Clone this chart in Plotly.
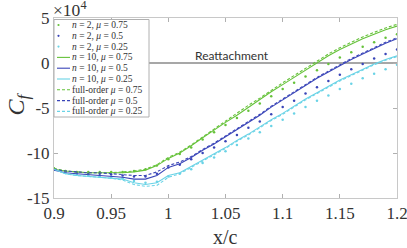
import plotly.graph_objects as go

# ---------------- data (Cf in units of 1e-4) ----------------
x_vals = [0.90, 0.91, 0.92, 0.93, 0.94, 0.95, 0.96, 0.97, 0.98, 0.99, 1.00,
          1.01, 1.02, 1.03, 1.04, 1.05, 1.06, 1.07, 1.08, 1.09, 1.10,
          1.11, 1.12, 1.13, 1.14, 1.15, 1.16, 1.17, 1.18, 1.19, 1.20]

n2_mu075 = [-11.7, -12.0, -12.1, -12.1, -12.1, -12.1, -12.1, -12.0, -11.8, -11.4, -10.7,
            -10.1, -9.4, -8.5, -7.7, -6.9, -6.1, -5.3, -4.5, -3.7, -2.9,
            -2.2, -1.5, -0.8, -0.1, 0.6, 1.2, 1.8, 2.3, 2.8, 3.2]
n2_mu05 = [-11.8, -12.1, -12.2, -12.3, -12.3, -12.4, -12.5, -12.6, -12.6, -12.3, -11.6,
           -11.3, -10.7, -10.0, -9.4, -8.7, -8.0, -7.2, -6.5, -5.7, -4.9,
           -4.2, -3.4, -2.7, -2.0, -1.3, -0.7, -0.1, 0.5, 1.0, 1.5]
n2_mu025 = [-11.8, -12.2, -12.4, -12.5, -12.6, -12.7, -12.8, -13.1, -13.3, -13.2, -12.6,
            -12.3, -11.8, -11.1, -10.5, -9.8, -9.1, -8.4, -7.7, -7.0, -6.3,
            -5.6, -4.9, -4.2, -3.6, -2.9, -2.3, -1.7, -1.2, -0.7, -0.2]

n10_mu075 = [-11.8, -12.0, -12.1, -12.2, -12.2, -12.2, -12.2, -12.1, -11.9, -11.4, -10.6,
             -10.0, -9.2, -8.3, -7.4, -6.6, -5.8, -4.9, -4.1, -3.2, -2.4,
             -1.6, -0.8, 0.0, 0.8, 1.5, 2.1, 2.7, 3.2, 3.7, 4.1]
n10_mu05 = [-11.9, -12.2, -12.3, -12.4, -12.5, -12.6, -12.7, -12.9, -12.9, -12.5, -11.6,
            -11.2, -10.5, -9.7, -9.0, -8.2, -7.4, -6.6, -5.8, -4.9, -4.1,
            -3.3, -2.5, -1.7, -1.0, -0.3, 0.4, 1.0, 1.6, 2.2, 2.7]
n10_mu025 = [-11.8, -12.3, -12.5, -12.6, -12.7, -12.8, -12.9, -13.3, -13.5, -13.3, -12.5,
             -12.2, -11.5, -10.8, -10.1, -9.4, -8.6, -7.9, -7.1, -6.3, -5.6,
             -4.8, -4.0, -3.3, -2.6, -1.9, -1.3, -0.7, -0.1, 0.4, 0.8]

full_mu075 = [-11.7, -12.0, -12.1, -12.2, -12.2, -12.2, -12.1, -12.0, -11.8, -11.3, -10.5,
              -9.9, -9.1, -8.2, -7.3, -6.4, -5.6, -4.7, -3.9, -3.0, -2.2,
              -1.4, -0.6, 0.2, 1.0, 1.7, 2.3, 2.9, 3.4, 3.9, 4.3]
full_mu05 = [-11.8, -12.0, -12.1, -12.2, -12.2, -12.3, -12.4, -12.5, -12.5, -12.1, -11.4,
             -11.0, -10.4, -9.6, -8.9, -8.1, -7.3, -6.5, -5.7, -4.8, -4.0,
             -3.2, -2.4, -1.6, -0.9, -0.2, 0.5, 1.1, 1.7, 2.3, 2.8]
full_mu025 = [-11.8, -12.3, -12.5, -12.6, -12.7, -12.8, -13.0, -13.5, -13.7, -13.6, -12.7,
              -12.3, -11.6, -10.9, -10.2, -9.5, -8.7, -8.0, -7.2, -6.4, -5.7,
              -4.9, -4.1, -3.4, -2.7, -2.0, -1.4, -0.8, -0.2, 0.3, 0.7]

x_ticks = [0.9, 0.95, 1.0, 1.05, 1.1, 1.15, 1.2]
x_ticklabels = ["0.9", "0.95", "1", "1.05", "1.1", "1.15", "1.2"]
y_ticks = [5, 0, -5, -10, -15]
y_ticklabels = ["5", "0", "-5", "-10", "-15"]

legend_labels = [
    "<i>n</i> = 2, <i>μ</i> = 0.75",
    "<i>n</i> = 2, <i>μ</i> = 0.5",
    "<i>n</i> = 2, <i>μ</i> = 0.25",
    "<i>n</i> = 10, <i>μ</i> = 0.75",
    "<i>n</i> = 10, <i>μ</i> = 0.5",
    "<i>n</i> = 10, <i>μ</i> = 0.25",
    "full-order <i>μ</i> = 0.75",
    "full-order <i>μ</i> = 0.5",
    "full-order <i>μ</i> = 0.25",
]

GREEN = "#66c23a"
BLUE = "#3a45b8"
CYAN = "#6ad3e6"
colors = [GREEN, BLUE, CYAN]
kinds = ["dot", "solid", "dash"]

SERIF = "Liberation Serif"
TXT = "#333333"

fig = go.Figure()

series = [
    (n2_mu075, n2_mu05, n2_mu025),
    (n10_mu075, n10_mu05, n10_mu025),
    (full_mu075, full_mu05, full_mu025),
]

# zero (reattachment) line
fig.add_hline(y=0, line=dict(color="#8a8a8a", width=1.3), layer="below")

for kind, group in zip(kinds, series):
    for col, ys in zip(colors, group):
        if kind == "dot":
            fig.add_trace(go.Scatter(x=x_vals, y=ys, mode="markers",
                                     marker=dict(color=col, size=2.5),
                                     showlegend=False))
        else:
            fig.add_trace(go.Scatter(x=x_vals, y=ys, mode="lines",
                                     line=dict(color=col, width=1.1,
                                               dash="solid" if kind == "solid" else "3px,2px"),
                                     showlegend=False))

fig.add_annotation(x=1.022, y=0, xref="x", yref="y", text="Reattachment",
                   showarrow=False, xanchor="left", yanchor="bottom", yshift=-2,
                   font=dict(family="Lato", size=12, color=TXT))

# compact MATLAB-style legend
W, H = 343.0, 180.0
fig.add_shape(type="rect", xref="paper", yref="paper",
              x0=0.0, x1=95 / W, y0=(198 - 117) / H, y1=(198 - 19.5) / H,
              line=dict(color="#b0b0b0", width=1), fillcolor="white", layer="above")
for i, lab in enumerate(legend_labels):
    yc = (198 - (25 + 10.8 * i)) / H
    col = colors[i % 3]
    kind = kinds[i // 3]
    if kind == "dot":
        fig.add_shape(type="circle", xref="paper", yref="paper",
                      x0=(4.5 - 1.1) / W, x1=(4.5 + 1.1) / W,
                      y0=yc - 1.1 / H, y1=yc + 1.1 / H,
                      line=dict(width=0), fillcolor=col, layer="above")
    else:
        fig.add_shape(type="line", xref="paper", yref="paper",
                      x0=3 / W, x1=16 / W, y0=yc, y1=yc,
                      line=dict(color=col, width=1.1,
                                dash="solid" if kind == "solid" else "3px,2px"),
                      layer="above")
    fig.add_annotation(x=16 / W, y=yc, xref="paper", yref="paper", text=lab,
                       showarrow=False, xanchor="left", yanchor="middle",
                       font=dict(family=SERIF, size=9.5, color=TXT))

fig.add_annotation(x=0, y=1, xref="paper", yref="paper", text="×10<sup>4</sup>",
                   showarrow=False, xanchor="left", yanchor="bottom", xshift=-3, yshift=-4,
                   font=dict(family=SERIF, size=17.5, color=TXT))

# axis titles
fig.add_annotation(x=0.5, y=0, xref="paper", yref="paper", text="x/c",
                   showarrow=False, xanchor="center", yanchor="top", yshift=-26,
                   font=dict(family=SERIF, size=20, color=TXT))
fig.add_annotation(x=0, y=0.52, xref="paper", yref="paper", text="<i>C<sub>f</sub></i>",
                   showarrow=False, xanchor="center", yanchor="middle", xshift=-36,
                   textangle=-90, font=dict(family=SERIF, size=24, color=TXT))

axis_common = dict(showgrid=False, zeroline=False, showline=True, linecolor="#c8c8c8",
                   linewidth=1, mirror="ticks", ticks="inside", ticklen=4,
                   tickcolor="#b0b0b0", automargin=False, ticklabeloverflow="allow",
                   tickfont=dict(family=SERIF, size=17, color=TXT))
fig.update_xaxes(range=[0.9, 1.2], tickvals=x_ticks, ticktext=x_ticklabels, **axis_common)
fig.update_yaxes(range=[-15, 5], tickvals=y_ticks, ticktext=y_ticklabels, **axis_common)

fig.update_layout(width=407, height=248, margin=dict(l=54, r=10, t=18, b=50),
                  plot_bgcolor="white", paper_bgcolor="white", showlegend=False)

fig.write_html("out.html", config={"displayModeBar": False},
               post_script="document.body.style.margin='0px';document.body.style.overflow='hidden';")
